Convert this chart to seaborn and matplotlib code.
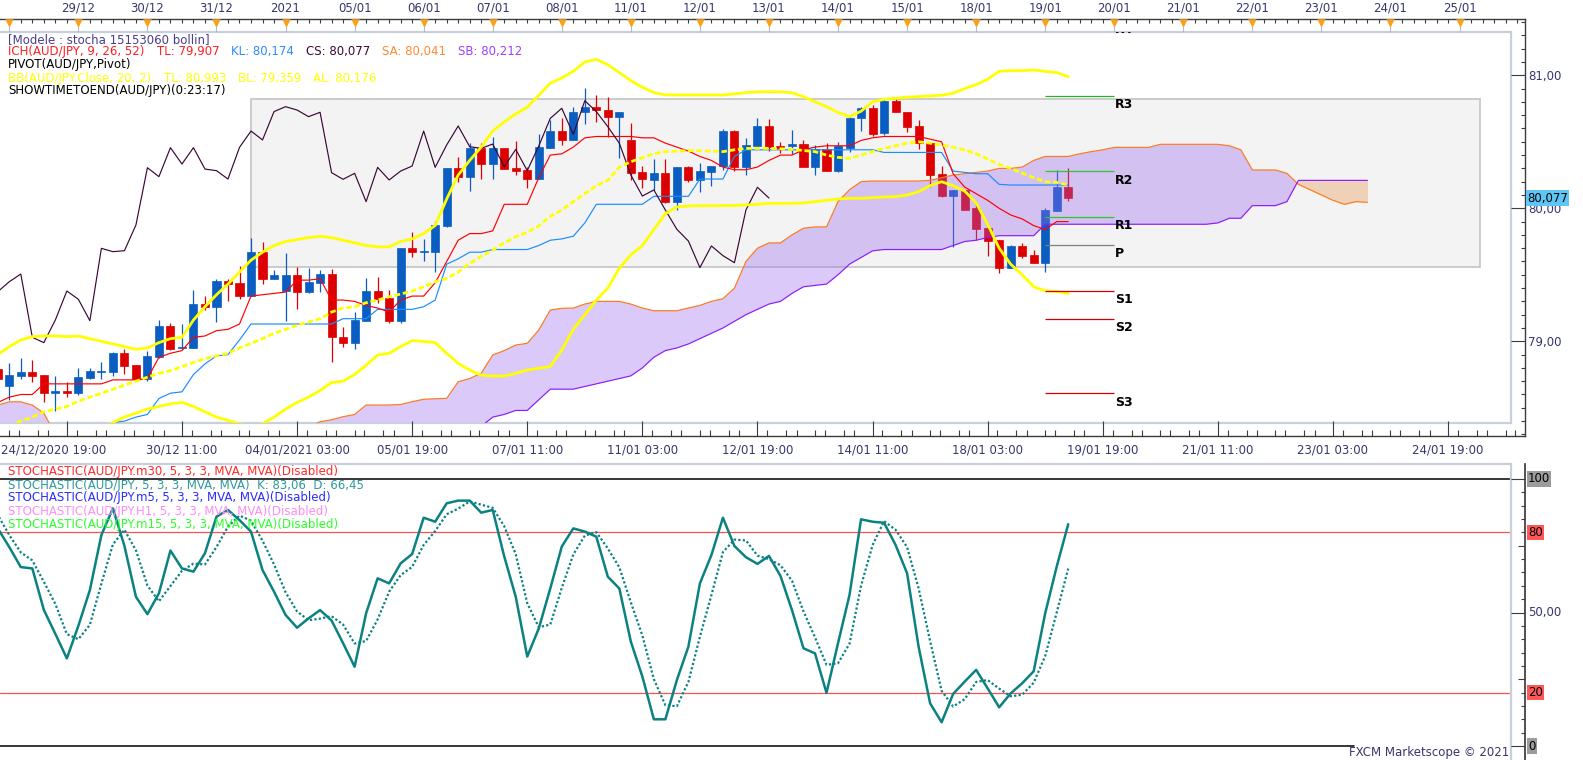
import numpy as np
import matplotlib
matplotlib.use("Agg")
import matplotlib.pyplot as plt
import matplotlib.transforms as mtransforms
from matplotlib.patches import Rectangle
from matplotlib.ticker import FixedLocator, MultipleLocator
import seaborn as sns

nan = np.nan

# ---------------- values ----------------
# AUD/JPY 4h candles, bar -1 is the half hidden candle on the left edge
bars = list(range(-1, 93))

opens = [78.789, 78.666, 78.742, 78.769, 78.747, 78.614, 78.626, 78.614, 78.727, 78.769,
         78.769, 78.909, 78.819, 78.714, 78.882, 79.115, 78.952, 78.952, 79.281, 79.260,
         79.453, 79.441, 79.343, 79.671, 79.466, 79.381, 79.498, 79.373, 79.441, 79.506,
         79.035, 78.990, 79.155, 79.378, 79.323, 79.155, 79.699, 79.671, 79.674, 79.867,
         80.305, 80.238, 80.456, 80.333, 80.456, 80.305, 80.288, 80.220, 80.456, 80.581,
         80.514, 80.722, 80.764, 80.739, 80.689, 80.514, 80.270, 80.213, 80.263, 80.050,
         80.308, 80.213, 80.275, 80.318, 80.581, 80.313, 80.468, 80.619, 80.468, 80.468,
         80.483, 80.313, 80.443, 80.283, 80.456, 80.676, 80.752, 80.564, 80.809, 80.727,
         80.619, 80.489, 80.255, 80.092, 80.138, 80.000, 79.855, 79.762, 79.554, 79.717,
         79.649, 79.591, 79.982, 80.158]
highs = [78.800, 78.834, 78.877, 78.859, 78.750, 78.739, 78.694, 78.802, 78.802, 78.844,
         78.922, 78.945, 78.822, 78.927, 79.160, 79.135, 79.127, 79.386, 79.341, 79.466,
         79.466, 79.569, 79.779, 79.749, 79.536, 79.661, 79.561, 79.554, 79.536, 79.546,
         79.110, 79.218, 79.473, 79.481, 79.386, 79.699, 79.819, 79.767, 79.907, 80.305,
         80.383, 80.488, 80.488, 80.539, 80.456, 80.508, 80.313, 80.559, 80.664, 80.676,
         80.764, 80.902, 80.852, 80.839, 80.722, 80.639, 80.318, 80.371, 80.371, 80.308,
         80.320, 80.338, 80.318, 80.594, 80.589, 80.531, 80.676, 80.669, 80.501, 80.589,
         80.513, 80.476, 80.489, 80.501, 80.689, 80.764, 80.777, 80.827, 80.819, 80.727,
         80.664, 80.501, 80.318, 80.138, 80.140, 80.050, 79.887, 79.762, 79.722, 79.742,
         79.687, 80.000, 80.286, 80.301]
lows = [78.700, 78.559, 78.719, 78.696, 78.546, 78.478, 78.584, 78.594, 78.719, 78.719,
        78.739, 78.752, 78.712, 78.702, 78.877, 78.932, 78.945, 78.952, 79.235, 79.148,
        79.306, 79.318, 79.343, 79.433, 79.466, 79.155, 79.243, 79.366, 79.373, 78.847,
        78.960, 78.945, 79.155, 79.285, 79.135, 79.140, 79.631, 79.606, 79.524, 79.862,
        80.200, 80.133, 80.220, 80.220, 80.295, 80.250, 80.155, 80.220, 80.456, 80.476,
        80.514, 80.634, 80.651, 80.534, 80.376, 80.213, 80.155, 80.138, 80.042, 79.987,
        80.200, 80.125, 80.168, 80.288, 80.283, 80.250, 80.468, 80.431, 80.413, 80.408,
        80.308, 80.250, 80.283, 80.275, 80.426, 80.584, 80.544, 80.551, 80.727, 80.576,
        80.443, 80.163, 80.083, 79.712, 79.987, 79.762, 79.644, 79.511, 79.549, 79.624,
        79.591, 79.523, 79.982, 80.057]
closes = [78.714, 78.747, 78.769, 78.742, 78.614, 78.626, 78.614, 78.734, 78.777, 78.777,
          78.914, 78.814, 78.714, 78.889, 79.115, 78.945, 78.960, 79.281, 79.260, 79.453,
          79.433, 79.343, 79.671, 79.466, 79.498, 79.498, 79.373, 79.448, 79.506, 79.030,
          78.990, 79.160, 79.378, 79.316, 79.155, 79.699, 79.674, 79.681, 79.874, 80.305,
          80.238, 80.456, 80.333, 80.456, 80.295, 80.283, 80.220, 80.458, 80.581, 80.514,
          80.727, 80.764, 80.739, 80.689, 80.722, 80.268, 80.218, 80.263, 80.050, 80.308,
          80.213, 80.280, 80.318, 80.581, 80.308, 80.476, 80.619, 80.463, 80.451, 80.483,
          80.313, 80.443, 80.283, 80.468, 80.676, 80.752, 80.556, 80.809, 80.727, 80.614,
          80.489, 80.250, 80.092, 80.138, 79.987, 79.842, 79.754, 79.554, 79.717, 79.644,
          79.591, 79.987, 80.158, 80.077]

tenkan = [78.54, 78.58, 78.60, 78.60, 78.68, 78.68, 78.68, 78.68, 78.68, 78.68,
          78.71, 78.71, 78.71, 78.72, 78.88, 78.91, 78.93, 79.03, 79.04, 79.08,
          79.09, 79.13, 79.34, 79.35, 79.36, 79.37, 79.46, 79.46, 79.47, 79.31,
          79.31, 79.30, 79.27, 79.25, 79.22, 79.31, 79.34, 79.34, 79.44, 79.60,
          79.76, 79.81, 79.81, 79.83, 80.03, 80.03, 80.03, 80.23, 80.40, 80.41,
          80.46, 80.53, 80.54, 80.54, 80.54, 80.54, 80.53, 80.53, 80.49, 80.46,
          80.43, 80.39, 80.36, 80.31, 80.29, 80.29, 80.31, 80.36, 80.40, 80.40,
          80.44, 80.46, 80.47, 80.47, 80.47, 80.51, 80.53, 80.54, 80.54, 80.54,
          80.54, 80.52, 80.50, 80.26, 80.16, 80.11, 80.06, 80.00, 79.95, 79.92,
          79.87, 79.84, 79.90, 79.90]
kijun = [nan, nan, nan, nan, nan, nan, nan, nan, nan, nan,
         78.39, 78.40, 78.43, 78.45, 78.57, 78.61, 78.62, 78.75, 78.83, 78.89,
         78.90, 79.01, 79.13, 79.13, 79.13, 79.13, 79.13, 79.13, 79.13, 79.13,
         79.17, 79.17, 79.17, 79.24, 79.24, 79.24, 79.24, 79.26, 79.31, 79.58,
         79.62, 79.67, 79.67, 79.69, 79.69, 79.69, 79.69, 79.72, 79.76, 79.77,
         79.79, 79.89, 80.03, 80.03, 80.03, 80.03, 80.03, 80.09, 80.09, 80.09,
         80.09, 80.22, 80.22, 80.22, 80.39, 80.44, 80.44, 80.44, 80.44, 80.44,
         80.44, 80.44, 80.44, 80.44, 80.44, 80.44, 80.44, 80.42, 80.42, 80.42,
         80.42, 80.42, 80.42, 80.28, 80.27, 80.26, 80.26, 80.18, 80.175, 80.175,
         80.175, 80.175, 80.175, 80.174]

bb_top = [78.90, 78.96, 79.01, 79.035, 79.04, 79.04, 79.035, 79.04, 79.02, 79.00,
          78.98, 78.96, 78.94, 78.95, 78.99, 79.02, 79.03, 79.16, 79.26, 79.35,
          79.43, 79.52, 79.61, 79.67, 79.72, 79.75, 79.765, 79.78, 79.79, 79.78,
          79.76, 79.74, 79.72, 79.71, 79.71, 79.75, 79.77, 79.81, 79.87, 80.07,
          80.25, 80.36, 80.46, 80.58, 80.65, 80.71, 80.76, 80.85, 80.94, 80.98,
          81.03, 81.10, 81.12, 81.08, 81.02, 80.96, 80.91, 80.87, 80.853, 80.852,
          80.852, 80.852, 80.852, 80.852, 80.86, 80.87, 80.875, 80.877, 80.875, 80.868,
          80.84, 80.80, 80.765, 80.72, 80.69, 80.73, 80.80, 80.82, 80.827, 80.835,
          80.84, 80.845, 80.85, 80.865, 80.90, 80.93, 80.97, 81.03, 81.035, 81.035,
          81.04, 81.03, 81.02, 80.99]
bb_mid = [nan, 78.36, 78.40, 78.43, 78.47, 78.49, 78.51, 78.55, 78.58, 78.61,
          78.64, 78.67, 78.70, 78.73, 78.76, 78.78, 78.81, 78.84, 78.87, 78.89,
          78.91, 78.95, 78.985, 79.02, 79.06, 79.09, 79.12, 79.145, 79.17, 79.22,
          79.25, 79.26, 79.29, 79.31, 79.335, 79.355, 79.378, 79.41, 79.448, 79.473,
          79.52, 79.586, 79.64, 79.686, 79.74, 79.787, 79.82, 79.867, 79.94, 79.987,
          80.05, 80.11, 80.17, 80.21, 80.31, 80.35, 80.38, 80.41, 80.426, 80.43,
          80.433, 80.433, 80.43, 80.426, 80.44, 80.45, 80.451, 80.451, 80.448, 80.443,
          80.435, 80.426, 80.40, 80.383, 80.376, 80.40, 80.426, 80.45, 80.47, 80.49,
          80.50, 80.49, 80.476, 80.46, 80.438, 80.41, 80.37, 80.33, 80.30, 80.265,
          80.23, 80.20, 80.195, 80.176]
bb_low = [nan, nan, nan, nan, nan, nan, nan, nan, nan, 78.35,
          78.39, 78.43, 78.46, 78.49, 78.51, 78.53, 78.54, 78.51, 78.47, 78.43,
          78.405, 78.38, 78.37, 78.38, 78.43, 78.49, 78.54, 78.58, 78.63, 78.69,
          78.70, 78.75, 78.82, 78.897, 78.91, 78.96, 79.005, 79.00, 78.99, 78.91,
          78.834, 78.784, 78.746, 78.739, 78.739, 78.759, 78.784, 78.797, 78.81, 78.935,
          79.09, 79.20, 79.31, 79.40, 79.55, 79.65, 79.72, 79.84, 79.96, 80.01,
          80.017, 80.02, 80.02, 80.02, 80.022, 80.025, 80.03, 80.037, 80.037, 80.037,
          80.04, 80.05, 80.06, 80.07, 80.075, 80.075, 80.08, 80.085, 80.088, 80.10,
          80.125, 80.17, 80.20, 80.17, 80.13, 80.04, 79.88, 79.70, 79.58, 79.50,
          79.41, 79.38, 79.375, 79.36]

# the cloud is drawn 26 bars past the last candle
cloud_bars = list(range(-1, 119))
senkou_a = [78.52, 78.545, 78.545, 78.52, 78.46, 78.30, nan, nan, nan, nan,
            nan, nan, nan, nan, nan, nan, nan, nan, nan, nan,
            nan, nan, nan, nan, nan, nan, nan, 78.36, 78.395, 78.41,
            78.433, 78.45, 78.521, 78.521, 78.521, 78.525, 78.546, 78.564, 78.568, 78.571,
            78.696, 78.72, 78.76, 78.897, 78.93, 78.972, 78.985, 79.085, 79.235, 79.248,
            79.25, 79.28, 79.30, 79.30, 79.30, 79.28, 79.25, 79.23, 79.23, 79.23,
            79.25, 79.27, 79.30, 79.32, 79.40, 79.60, 79.70, 79.74, 79.74, 79.80,
            79.85, 79.86, 79.86, 80.05, 80.14, 80.20, 80.205, 80.205, 80.205, 80.205,
            80.205, 80.21, 80.23, 80.25, 80.26, 80.27, 80.28, 80.30, 80.30, 80.31,
            80.36, 80.39, 80.39, 80.39, 80.41, 80.426, 80.44, 80.458, 80.458, 80.458,
            80.458, 80.481, 80.481, 80.481, 80.481, 80.481, 80.481, 80.47, 80.44, 80.288,
            80.288, 80.288, 80.263, 80.18, 80.14, 80.10, 80.06, 80.03, 80.05, 80.045]
senkou_b = [nan] * 42 + [
            78.36, 78.43, 78.45, 78.48, 78.48, 78.56, 78.64, 78.64,
            78.64, 78.66, 78.68, 78.70, 78.72, 78.74, 78.80, 78.88, 78.93, 78.95,
            78.98, 79.02, 79.06, 79.10, 79.15, 79.20, 79.24, 79.28, 79.30, 79.36,
            79.41, 79.42, 79.43, 79.50, 79.58, 79.63, 79.68, 79.69, 79.69, 79.69,
            79.69, 79.69, 79.69, 79.72, 79.75, 79.76, 79.78, 79.794, 79.794, 79.794,
            79.794, 79.88, 79.88, 79.88, 79.88, 79.88, 79.88, 79.88, 79.88, 79.88,
            79.88, 79.88, 79.88, 79.88, 79.88, 79.88, 79.89, 79.925, 79.925, 80.02,
            80.02, 80.02, 80.05, 80.21, 80.21, 80.21, 80.21, 80.21, 80.21, 80.21]

stoch_k = [81.5, 74.5, 67.0, 66.5, 51.0, 42.0, 32.8, 45.0, 58.4, 79.0,
           89.0, 75.0, 55.9, 49.4, 57.2, 73.2, 66.5, 65.3, 72.2, 85.9,
           88.4, 84.6, 80.3, 65.9, 57.8, 49.1, 44.3, 47.8, 50.9, 47.0,
           38.5, 29.7, 49.7, 62.8, 60.9, 68.4, 71.9, 85.5, 84.0, 90.9,
           91.9, 91.9, 87.4, 88.4, 71.0, 55.9, 33.5, 44.0, 59.0, 74.7,
           81.5, 80.3, 78.4, 63.4, 59.0, 39.1, 26.0, 10.0, 10.0, 24.7,
           37.2, 60.9, 71.5, 85.5, 74.9, 70.7, 68.2, 71.2, 63.7, 50.9,
           36.6, 34.7, 19.9, 38.5, 56.6, 84.9, 84.0, 83.6, 75.3, 64.7,
           37.2, 16.0, 8.9, 19.5, 24.1, 28.5, 21.6, 14.5, 19.7, 23.5,
           28.0, 49.7, 67.2, 83.06]
stoch_d = [86.5, 79.0, 72.5, 69.5, 61.5, 53.2, 41.9, 40.0, 45.4, 60.8,
           75.5, 81.0, 73.3, 60.1, 54.2, 59.9, 65.6, 68.3, 68.0, 74.5,
           82.2, 86.3, 84.4, 76.9, 68.0, 57.6, 50.4, 47.1, 47.7, 48.6,
           45.5, 38.4, 39.3, 47.4, 57.8, 64.0, 67.1, 75.3, 80.5, 86.8,
           88.9, 91.6, 90.4, 89.2, 82.3, 71.8, 53.5, 44.5, 45.5, 59.2,
           71.7, 78.8, 80.1, 74.0, 66.9, 53.8, 41.4, 25.0, 15.3, 14.9,
           24.0, 40.9, 56.5, 72.6, 77.3, 77.0, 71.3, 70.0, 67.7, 61.9,
           50.4, 40.7, 30.4, 31.0, 38.3, 60.0, 75.2, 84.2, 81.0, 74.5,
           59.1, 39.3, 20.7, 14.8, 17.5, 24.0, 24.7, 21.5, 18.6, 19.2,
           23.7, 33.7, 50.0, 66.45]

pivot_names = ["R4", "R3", "R2", "R1", "P", "S1", "S2", "S3"]
pivot_levels = [81.41, 80.842, 80.277, 79.932, 79.722, 79.376, 79.165, 78.608]
pivot_colors = ["#22b422", "#22b422", "#33c633", "#33c633", "#808080", "#d40000", "#d40000", "#d40000"]
pivot_span = (90, 96)

box_bars = (21.0, 127.8)
box_prices = (79.556, 80.820)

day_labels = ["", "29/12", "30/12", "31/12", "2021", "05/01", "06/01", "07/01", "08/01",
              "11/01", "12/01", "13/01", "14/01", "15/01", "18/01", "19/01", "20/01",
              "21/01", "22/01", "23/01", "24/01", "25/01"]
time_labels = ["24/12/2020 19:00", "30/12 11:00", "04/01/2021 03:00", "05/01 19:00",
               "07/01 11:00", "11/01 03:00", "12/01 19:00", "14/01 11:00", "18/01 03:00",
               "19/01 19:00", "21/01 11:00", "23/01 03:00", "24/01 19:00"]
price_ticks = [79, 80, 81]
last_price = 80.077

# ---------------- style ----------------
sns.set_theme(style="white")
plt.rcParams["font.family"] = ["DejaVu Sans"]

FS = 8.5
UP, DOWN = "#0a5ec2", "#dd0000"
FRAME = "#c7d0dc"
AXC = "#3c3c3c"
TXT = "#36366c"
YEL = "#ffff00"
TEAL = "#0b8282"

W, H = 1583, 760
fig = plt.figure(figsize=(W / 100, H / 100), dpi=100)
renderer = fig.canvas.get_renderer()


def rect(x0, y0, x1, y1):
    return [x0 / W, 1 - y1 / H, (x1 - x0) / W, (y1 - y0) / H]


def bar_at(px):
    return (px - 9.3) / 11.51


def price_at(py):
    return 80 + (208.3 - py) / 133.0


def stoch_at(py):
    return (746 - py) / 2.67


def ftext(x, y, s, color, **kw):
    return fig.text(x / W, 1 - y / H, s, color=color, fontsize=FS, va="center",
                    ha="left", **kw)


def ftext_run(x, y, pieces, gap=12):
    # several coloured pieces on one caption line, one after the other
    for s, col in pieces:
        t = ftext(x, y, s, col)
        x = t.get_window_extent(renderer=renderer).x1 + gap


# ---------------- main price panel ----------------
ax = fig.add_axes(rect(0, 32, 1511, 423))
ax.set_facecolor("white")
ax.add_patch(Rectangle((box_bars[0], box_prices[0]), box_bars[1] - box_bars[0],
                       box_prices[1] - box_prices[0], facecolor="#f3f3f3",
                       edgecolor="#c4c4c4", linewidth=1.2, zorder=0.5))

o = np.array(opens)
c = np.array(closes)
cols = np.where(c >= o, UP, DOWN)
ax.vlines(bars, lows, highs, colors=cols, linewidth=0.9, zorder=1.8)
ax.bar(bars, np.abs(c - o), bottom=np.minimum(o, c), width=0.7, color=cols,
       edgecolor=cols, linewidth=0.5, zorder=2)

# ichimoku cloud, drawn over the candles like the platform does
sa = np.array(senkou_a)
sb = np.array(senkou_b)
sb_fill = np.where(np.isnan(sb), price_at(423) - 0.1, sb)
ax.fill_between(cloud_bars, sa, sb_fill, where=sa >= sb_fill, interpolate=True,
                color="#9a66ee", alpha=0.35, linewidth=0, zorder=2.5)
ax.fill_between(cloud_bars, sa, sb_fill, where=sa < sb_fill, interpolate=True,
                color="#eba060", alpha=0.4, linewidth=0, zorder=2.5)
ax.plot(cloud_bars, sa, color="#ff7a1a", linewidth=0.85, zorder=3)
ax.plot(cloud_bars, sb, color="#8a1aff", linewidth=0.85, zorder=3)

sns.lineplot(x=bars, y=kijun, ax=ax, color="#1a8cff", linewidth=0.85, zorder=3.1,
             estimator=None, sort=False)
sns.lineplot(x=bars, y=tenkan, ax=ax, color="#ff0000", linewidth=0.85, zorder=3.2,
             estimator=None, sort=False)
# chikou span = closes drawn 26 bars back
sns.lineplot(x=bars[:-26], y=closes[26:], ax=ax, color="#3a0838", linewidth=0.85,
             zorder=3.3, estimator=None, sort=False)

sns.lineplot(x=bars, y=bb_top, ax=ax, color=YEL, linewidth=2.0, zorder=3.5,
             estimator=None, sort=False)
sns.lineplot(x=bars, y=bb_low, ax=ax, color=YEL, linewidth=2.0, zorder=3.5,
             estimator=None, sort=False)
sns.lineplot(x=bars, y=bb_mid, ax=ax, color=YEL, linewidth=2.0, zorder=3.5,
             estimator=None, sort=False, linestyle=(0, (2.0, 1.0)))

ax.hlines(pivot_levels, pivot_span[0], pivot_span[1], colors=pivot_colors,
          linewidth=0.9, zorder=3.6)
for name, lvl in zip(pivot_names, pivot_levels):
    ax.annotate(name, (pivot_span[1], lvl), xytext=(0.5, -1.5), textcoords="offset points",
                ha="left", va="top", fontsize=9, fontweight="bold", color="black",
                annotation_clip=False, clip_on=True, zorder=4)

ax.set_xlim(bar_at(0), bar_at(1511))
ax.set_ylim(price_at(423), price_at(32))
ax.set_xticks([])
ax.set_yticks([])
ax.set_xlabel("")
ax.set_ylabel("")
for side, sp in ax.spines.items():
    sp.set_color(FRAME)
    sp.set_linewidth(1.6)
ax.spines["left"].set_visible(False)

# outer scales of the price panel
axo = fig.add_axes(rect(0, 19, 1525, 436))
axo.patch.set_visible(False)
axo.set_xlim(bar_at(0), bar_at(1525))
axo.set_ylim(price_at(436), price_at(19))
hh = 436 - 19
for side in ["top", "bottom", "right"]:
    axo.spines[side].set_color(AXC)
    axo.spines[side].set_linewidth(1.0)
axo.spines["left"].set_visible(False)

axo.yaxis.tick_right()
axo.yaxis.set_major_locator(FixedLocator(price_ticks))
axo.yaxis.set_minor_locator(MultipleLocator(0.1))
axo.set_yticklabels([f"{p:.2f}".replace(".", ",") for p in price_ticks])
axo.tick_params(axis="y", which="major", direction="in", length=10, width=0.8,
                color=AXC, pad=2.5, labelsize=FS, labelcolor=TXT, right=True, left=False)
axo.tick_params(axis="y", which="minor", direction="in", length=3, width=0.8,
                color=AXC, right=True, left=False)

major_bars = list(range(5, 130, 10))
minor_bars = [b + d for b in range(0, 135, 5) for d in (0, 0.85, 2.5, 3.4)
              if (b + d) not in major_bars and b + d < bar_at(1525)]
axo.xaxis.set_major_locator(FixedLocator(major_bars))
axo.xaxis.set_minor_locator(FixedLocator(minor_bars))
axo.tick_params(axis="x", which="major", direction="in", length=11, width=0.8,
                color=AXC, bottom=True, top=False, labelbottom=False)
axo.tick_params(axis="x", which="minor", direction="in", length=4.3, width=0.8,
                color=AXC, bottom=True, top=False)

tr = mtransforms.blended_transform_factory(axo.transData, axo.transAxes)
axo.vlines(list(range(0, 132)), 1 - 4 / hh, 1, transform=tr, colors=AXC, linewidth=0.8)
day_bars = list(range(0, 127, 6))
axo.vlines(day_bars, 1 - 13 / hh, 1 - 7 / hh, transform=tr, colors="#b4bcc8", linewidth=0.8)
axo.scatter(day_bars, [1 - 4 / hh] * len(day_bars), marker="v", s=38, color="#f7a21c",
            linewidths=0, transform=tr, clip_on=False, zorder=5)
for b, lab in zip(day_bars, day_labels):
    axo.text(b, 1 + 11 / hh, lab, transform=tr, ha="center", va="center",
             fontsize=FS, color=TXT)
for i, (b, lab) in enumerate(zip(major_bars, time_labels)):
    if i == 0:
        axo.text(bar_at(1), -14 / hh, lab, transform=tr, ha="left", va="center",
                 fontsize=FS, color=TXT)
    else:
        axo.text(b, -14 / hh, lab, transform=tr, ha="center", va="center",
                 fontsize=FS, color=TXT)
axo.text(1 + 2 / 1525, last_price, f"{last_price:.3f}".replace(".", ","),
         transform=mtransforms.blended_transform_factory(axo.transAxes, axo.transData),
         ha="left", va="center", fontsize=FS, color="black", zorder=6,
         bbox=dict(boxstyle="square,pad=0.12", facecolor="#5ec6f6", edgecolor="none"))

# ---------------- stochastic panel ----------------
axs = fig.add_axes(rect(0, 464, 1511, 760))
axs.set_facecolor("white")
axs.axhline(100, color="black", linewidth=1.1, zorder=1)
axs.axhline(0, xmax=1354 / 1511, color="black", linewidth=1.1, zorder=1)
axs.axhline(80, color="#ff5050", linewidth=0.9, zorder=1)
axs.axhline(20, color="#ff5050", linewidth=0.9, zorder=1)
sns.lineplot(x=bars, y=stoch_d, ax=axs, color=TEAL, linewidth=1.6, zorder=2,
             estimator=None, sort=False, linestyle=(0, (1, 1)))
sns.lineplot(x=bars, y=stoch_k, ax=axs, color=TEAL, linewidth=1.8, zorder=3,
             estimator=None, sort=False)
axs.set_xlim(bar_at(0), bar_at(1511))
axs.set_ylim(stoch_at(760), stoch_at(464))
axs.set_xticks([])
axs.set_yticks([])
axs.set_xlabel("")
axs.set_ylabel("")
for side, sp in axs.spines.items():
    sp.set_color(FRAME)
    sp.set_linewidth(1.6)
axs.spines["left"].set_visible(False)
axs.spines["bottom"].set_visible(False)

axso = fig.add_axes(rect(0, 464, 1525, 760))
axso.patch.set_visible(False)
axso.set_xlim(0, 1)
axso.set_ylim(stoch_at(760), stoch_at(464))
for side in ["top", "bottom", "left"]:
    axso.spines[side].set_visible(False)
axso.spines["right"].set_color(AXC)
axso.set_xticks([])
axso.yaxis.tick_right()
axso.yaxis.set_major_locator(FixedLocator([0, 50, 100]))
axso.yaxis.set_minor_locator(FixedLocator([v for v in range(5, 100, 5) if v not in (25, 50, 75)]))
axso.tick_params(axis="y", which="major", direction="in", length=10, width=0.8,
                 color=AXC, right=True, left=False, labelright=False)
axso.tick_params(axis="y", which="minor", direction="in", length=3, width=0.8,
                 color=AXC, right=True, left=False)
axso.hlines([25, 75], 1 - 7 / 1525, 1, colors=AXC, linewidth=0.8)
for val, lab, bg in [(100, "100", "#9c9c9c"), (80, "80", "#ff5757"), (50, "50,00", None),
                     (20, "20", "#ff5757"), (0, "0", "#9c9c9c")]:
    kw = {}
    if bg:
        kw["bbox"] = dict(boxstyle="square,pad=0.1", facecolor=bg, edgecolor="none")
    axso.text(1 + 3 / 1525, val, lab, ha="left", va="center", fontsize=FS,
              color="black" if bg else TXT, clip_on=False, **kw)

# ---------------- indicator captions ----------------
ftext(8.3, 39.3, "[Modele : stocha 15153060 bollin]", "#4b3c8c")
ftext_run(8.3, 52, [("ICH(AUD/JPY, 9, 26, 52)", "#ff1f1f"), ("TL: 79,907", "#ff1f1f"),
                    ("KL: 80,174", "#2d8cff"), ("CS: 80,077", "#3a0838"),
                    ("SA: 80,041", "#ff8a33"), ("SB: 80,212", "#a040ff")])
ftext(8.3, 64.7, "PIVOT(AUD/JPY,Pivot)", "black")
ftext_run(8.3, 78.3, [("BB(AUD/JPY.Close, 20, 2)", YEL), ("TL: 80,993", YEL),
                      ("BL: 79,359", YEL), ("AL: 80,176", YEL)])
ftext(8.3, 90.3, "SHOWTIMETOEND(AUD/JPY)(0:23:17)", "black")

ftext(8, 471.7, "STOCHASTIC(AUD/JPY.m30, 5, 3, 3, MVA, MVA)(Disabled)", "#ff2b2b")
ftext(8, 485, "STOCHASTIC(AUD/JPY, 5, 3, 3, MVA, MVA)  K: 83,06  D: 66,45", "#2d9a9a")
ftext(8, 497.7, "STOCHASTIC(AUD/JPY.m5, 5, 3, 3, MVA, MVA)(Disabled)", "#2b2bff")
ftext(8, 511, "STOCHASTIC(AUD/JPY.H1, 5, 3, 3, MVA, MVA)(Disabled)", "#ff8cf2")
ftext(8, 524.3, "STOCHASTIC(AUD/JPY.m15, 5, 3, 3, MVA, MVA)(Disabled)", "#2bff2b")

fig.text(1509 / W, 1 - 752.7 / H, "FXCM Marketscope \u00a9 2021", color=TXT, fontsize=FS,
         ha="right", va="center")

fig.savefig("out.png", dpi=100)
